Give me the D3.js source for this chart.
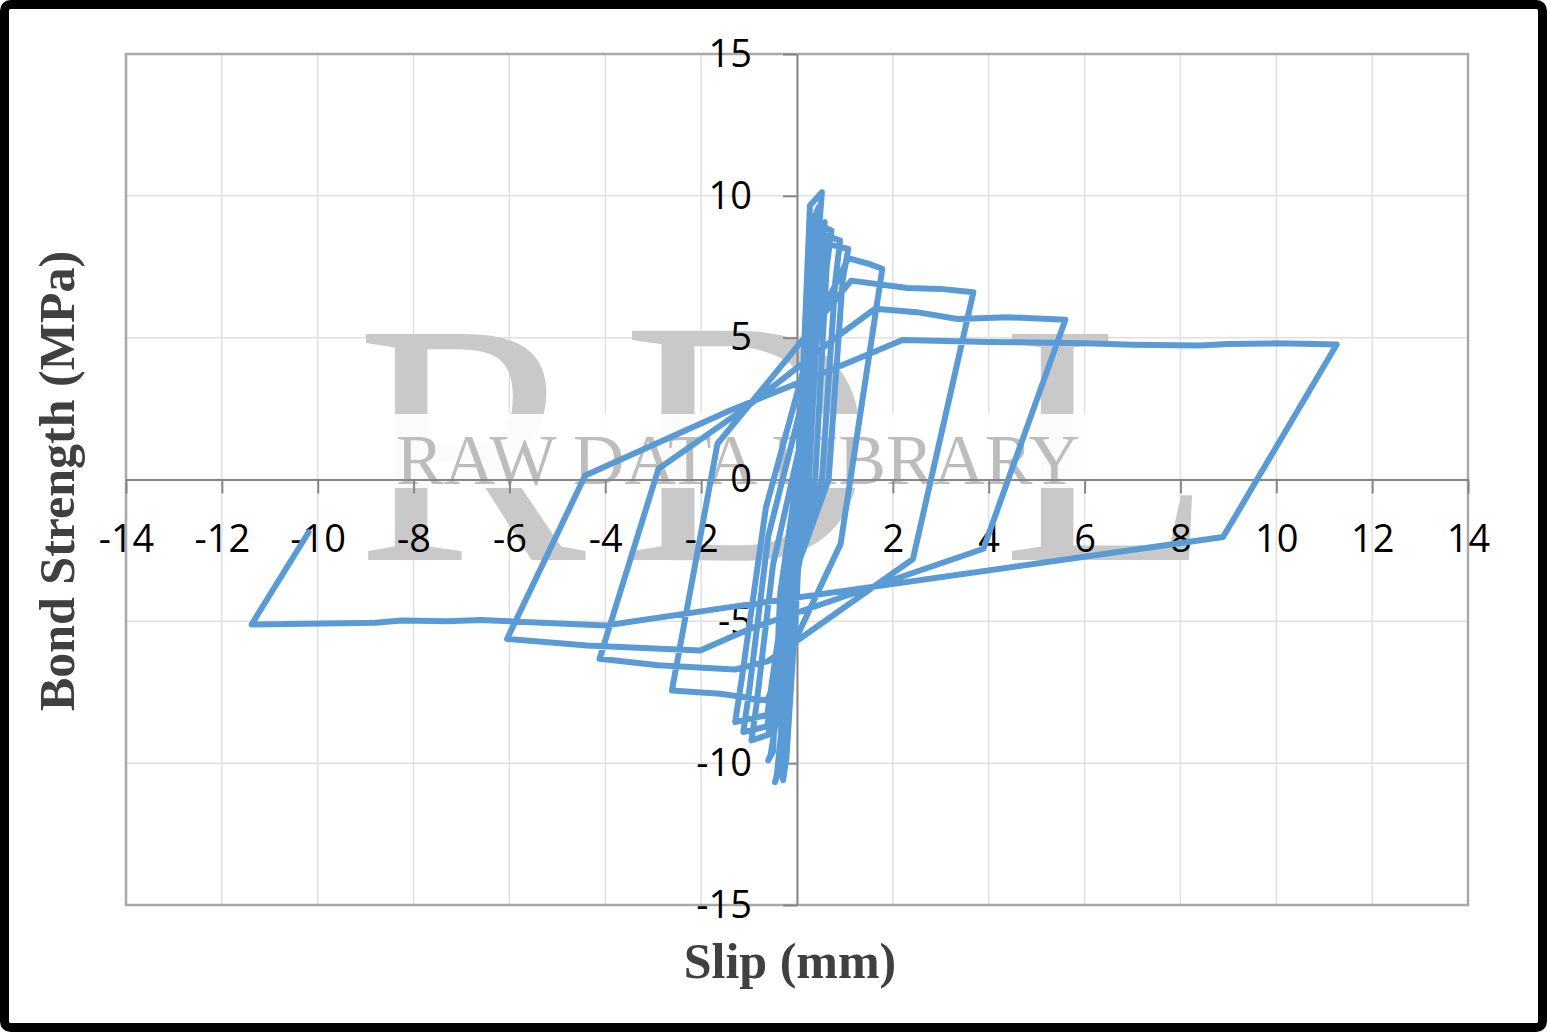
<!DOCTYPE html>
<html>
<head>
<meta charset="utf-8">
<script src="https://cdn.jsdelivr.net/npm/d3@7"></script>
<style>
  html, body { margin: 0; padding: 0; background: #fff; }
  svg { display: block; }
</style>
</head>
<body>
<svg id="chart" width="1547" height="1032"></svg>
<script>
// ---- data ----
const slip = [
  0, 0.12, 0.27, 0.52, 0.42, 0.1, -0.1, -0.3, -0.29, -0.22, 0.0,
  0.15, 0.33, 0.36, 0.3, 0.05, -0.2, -0.33, -0.36, -0.3, -0.05,
  0.2, 0.38, 0.45, 0.42, 0.15, -0.15, -0.42, -0.46, -0.38, -0.1,
  0.18, 0.4, 0.48, 0.44, 0.12, -0.18, -0.38, -0.42, -0.35, -0.25,
  0.2, 0.45, 0.58, 0.5, 0.25, -0.2, -0.55, -0.6, -0.5, -0.35,
  0.25, 0.55, 0.72, 0.62, 0.38, -0.3, -0.6, -0.95, -0.85, -0.5,
  0.3, 0.62, 0.9, 0.8, 0.52, -0.3, -0.62, -1.12, -1.0, -0.6,
  0.3, 0.65, 1.07, 0.95, 0.66, -0.3, -0.62, -1.29, -1.15, -0.65,
  0.4, 1.07, 1.5, 1.78, 0.91, -0.63, -1.6, -2.61, -1.66,
  1.13, 2.3, 3.0, 3.68, 2.42, -0.6, -1.3, -2.9, -4.12, -2.89,
  -1.1, 0.91, 1.63, 2.5, 3.35, 4.4, 5.6, 3.89, -0.98, -2.02, -2.86, -4.38, -6.05, -4.42,
  -1.4, 0.84, 2.2, 4.0, 6.0, 7.0, 8.4, 9.0, 10.0, 11.26, 8.89, -1.4, -4.0, -6.6, -7.3, -8.25, -8.8, -11.38, -10.19
];
const stress = [
  0, 3.5, 9.66, 10.13, 8.0, 0, -5, -10.2, -10.6, -9.8, -4,
  2, 9.0, 9.3, 8.5, 0, -6, -9.9, -10.3, -9.6, -4,
  2, 9.3, 9.6, 8.8, 0, -6, -10.4, -10.67, -10.3, -4,
  2, 9.2, 9.4, 8.6, 0, -6, -10.1, -10.45, -10.0, -4,
  2, 8.9, 9.07, 8.0, 0, -6, -9.7, -9.9, -9.6, -4,
  3, 8.9, 8.78, 7.5, 0, -6, -9.0, -9.2, -8.0, -3,
  3, 8.6, 8.42, 7.0, 0, -5, -8.7, -8.9, -7.5, -2,
  4, 8.3, 8.13, 7.0, 0, -4.5, -8.3, -8.55, -7.0, -1,
  5.5, 7.8, 7.6, 7.43, -2.27, -7.79, -7.55, -7.44, 1.26,
  7.01, 6.75, 6.72, 6.6, -2.8, -6.4, -6.7, -6.55, -6.32, 0.38,
  2.49, 5.13, 6.02, 5.9, 5.66, 5.72, 5.63, -2.44, -5.26, -6.03, -5.97, -5.85, -5.62, 0.14,
  2.43, 3.96, 4.92, 4.85, 4.8, 4.75, 4.72, 4.78, 4.8, 4.76, -2.03, -4.5, -5.15, -4.95, -5.0, -4.97, -5.05, -5.11, -1.86
];
const xTicks = [-14, -12, -10, -8, -6, -4, -2, 0, 2, 4, 6, 8, 10, 12, 14];
const yTicks = [-15, -10, -5, 0, 5, 10, 15];
const xTitle = "Slip (mm)";
const yTitle = "Bond Strength (MPa)";

// ---- layout ----
const svg = d3.select("#chart");
const L = 126, R = 1468, T = 54, B = 905;
const x = d3.scaleLinear().domain([-14, 14]).range([L, R]);
const y = d3.scaleLinear().domain([-15, 15]).range([B, T]);

// outer black frame
svg.append("rect").attr("x", 4.5).attr("y", 4.5).attr("width", 1538).attr("height", 1023)
  .attr("rx", 6).attr("fill", "#fff").attr("stroke", "#000").attr("stroke-width", 9);

// gridlines
const grid = svg.append("g");
grid.selectAll("line.vx").data(xTicks).join("line")
  .attr("x1", d => x(d)).attr("x2", d => x(d)).attr("y1", T).attr("y2", B)
  .attr("stroke", "#e0e0e0").attr("stroke-width", 1.5);
grid.selectAll("line.hy").data(yTicks).join("line")
  .attr("y1", d => y(d)).attr("y2", d => y(d)).attr("x1", L).attr("x2", R)
  .attr("stroke", "#e0e0e0").attr("stroke-width", 1.5);

// plot border
svg.append("rect").attr("x", L).attr("y", T).attr("width", R - L).attr("height", B - T)
  .attr("fill", "none").attr("stroke", "#a9a9a9").attr("stroke-width", 2.5);

// watermark
const serif = "'Liberation Serif', 'DejaVu Serif', serif";
const wm = svg.append("g").attr("fill", "#c9c9c9").attr("font-family", serif).attr("font-size", 345);
wm.append("text").attr("x", 356).attr("y", 560).text("R");
wm.append("text").attr("x", 622).attr("y", 560).attr("font-size", 350).text("D");
wm.append("text").attr("x", 1002).attr("y", 560).text("L");
svg.append("rect").attr("x", 382).attr("y", 414).attr("width", 712).attr("height", 74)
  .attr("fill", "#fff").attr("opacity", 0.92);
svg.append("text").attr("x", 396).attr("y", 484)
  .attr("textLength", 684).attr("lengthAdjust", "spacingAndGlyphs")
  .attr("font-family", serif).attr("font-size", 71).attr("fill", "#bdbdbd").text("RAW DATA LIBRARY");

// axes through origin
const tickFont = "'Open Sans', 'Liberation Sans', sans-serif";
const fmt = d => d < 0 ? "-" + Math.abs(d) : String(d);
const xAxis = d3.axisBottom(x).tickValues(xTicks).tickSize(14).tickSizeOuter(0).tickPadding(32).tickFormat(fmt);
const yAxis = d3.axisLeft(y).tickValues(yTicks).tickSize(14).tickSizeOuter(0).tickPadding(31).tickFormat(fmt);

const gx = svg.append("g").attr("transform", `translate(0,${y(0)})`).call(xAxis);
const gy = svg.append("g").attr("transform", `translate(${x(0)},0)`).call(yAxis);
[gx, gy].forEach(g => {
  g.select(".domain").attr("stroke", "#868686").attr("stroke-width", 2);
  g.selectAll(".tick line").attr("stroke", "#868686").attr("stroke-width", 2);
  g.selectAll(".tick text").attr("fill", "#000").attr("font-family", tickFont).attr("font-size", 38);
});

// data line
const pts = slip.map((s, i) => [s, stress[i]]);
const line = d3.line().x(d => x(d[0])).y(d => y(d[1]));
svg.append("path").datum(pts).attr("d", line)
  .attr("fill", "none").attr("stroke", "#5b9bd5").attr("stroke-width", 6)
  .attr("stroke-linejoin", "round").attr("stroke-linecap", "round");

// axis titles
svg.append("text").attr("x", 790).attr("y", 978).attr("text-anchor", "middle")
  .attr("font-family", "'Liberation Serif', 'Times New Roman', serif").attr("font-weight", "bold")
  .attr("font-size", 50).attr("fill", "#404040").text(xTitle);
svg.append("text").attr("transform", "translate(74,481) rotate(-90)").attr("text-anchor", "middle")
  .attr("font-family", "'Liberation Serif', 'Times New Roman', serif").attr("font-weight", "bold")
  .attr("font-size", 50).attr("fill", "#404040").text(yTitle);
</script>
</body>
</html>
